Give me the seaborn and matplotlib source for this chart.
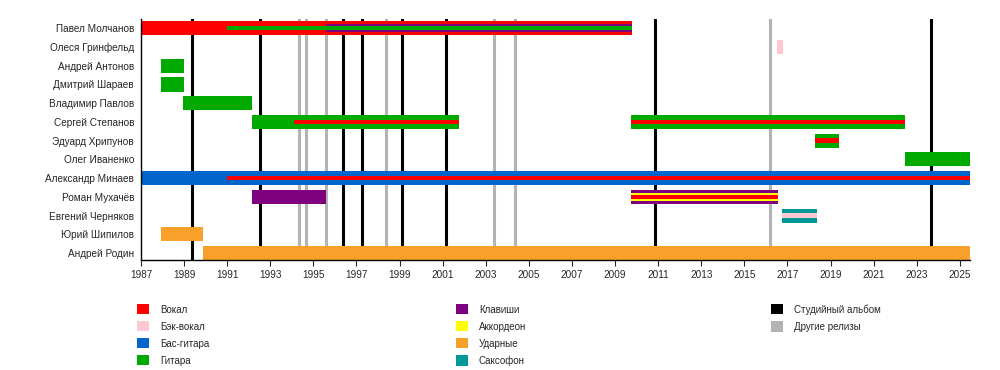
import numpy as np
import pandas as pd
import matplotlib
matplotlib.use("Agg")
import matplotlib.pyplot as plt
from matplotlib.patches import Patch
import seaborn as sns

# members, top to bottom
members = [
    "Павел Молчанов", "Олеся Гринфельд", "Андрей Антонов", "Дмитрий Шараев",
    "Владимир Павлов", "Сергей Степанов", "Эдуард Хрипунов", "Олег Иваненко",
    "Александр Минаев", "Роман Мухачёв", "Евгений Черняков", "Юрий Шипилов",
    "Андрей Родин",
]

instruments = ["Вокал", "Бэк-вокал", "Бас-гитара", "Гитара",
               "Клавиши", "Аккордеон", "Ударные", "Саксофон"]
inst_colors = ["#ff0000", "#ffc8d0", "#0066cc", "#00aa00",
               "#7f007f", "#ffff00", "#f9a02a", "#009999"]
color_of = dict(zip(instruments, inst_colors))

END = 2025.47

# (member, start, end, instrument)
main_bars = [
    ("Павел Молчанов", 1987.0, 2009.8, "Вокал"),
    ("Олеся Гринфельд", 2016.5, 2016.77, "Бэк-вокал"),
    ("Андрей Антонов", 1987.95, 1989.0, "Гитара"),
    ("Дмитрий Шараев", 1987.95, 1989.0, "Гитара"),
    ("Владимир Павлов", 1988.97, 1992.15, "Гитара"),
    ("Сергей Степанов", 1992.15, 2001.77, "Гитара"),
    ("Сергей Степанов", 2009.76, 2022.45, "Гитара"),
    ("Эдуард Хрипунов", 2018.3, 2019.37, "Гитара"),
    ("Олег Иваненко", 2022.45, END, "Гитара"),
    ("Александр Минаев", 1987.0, END, "Бас-гитара"),
    ("Роман Мухачёв", 1992.15, 1995.6, "Клавиши"),
    ("Роман Мухачёв", 2009.76, 2016.54, "Клавиши"),
    ("Евгений Черняков", 2016.73, 2018.35, "Саксофон"),
    ("Юрий Шипилов", 1987.95, 1989.9, "Ударные"),
    ("Андрей Родин", 1989.9, END, "Ударные"),
]
mid_bars = [
    ("Павел Молчанов", 1995.6, 2009.8, "Клавиши"),
    ("Роман Мухачёв", 2009.76, 2016.54, "Аккордеон"),
]
thin_bars = [
    ("Павел Молчанов", 1991.0, 2009.8, "Гитара"),
    ("Сергей Степанов", 1994.1, 2001.77, "Вокал"),
    ("Сергей Степанов", 2009.76, 2022.45, "Вокал"),
    ("Эдуард Хрипунов", 2018.3, 2019.37, "Вокал"),
    ("Александр Минаев", 1991.0, END, "Вокал"),
    ("Роман Мухачёв", 2009.76, 2016.54, "Вокал"),
    ("Евгений Черняков", 2016.73, 2018.35, "Бэк-вокал"),
]

studio_albums = [1989.37, 1992.53, 1996.38, 1997.26, 1999.12, 2001.17, 2010.87, 2023.65]
other_releases = [1994.34, 1994.66, 1995.6, 1998.38, 2003.4, 2004.37, 2016.2]

sns.set_style("white")
plt.rcParams["font.family"] = ["Liberation Sans", "DejaVu Sans"]

fig, ax = plt.subplots(figsize=(10, 3.7), dpi=100)
fig.subplots_adjust(left=0.141, right=0.970, top=0.949, bottom=0.297)

for x in other_releases:
    ax.axvline(x, color="#b3b3b3", lw=2.2, zorder=1)
for x in studio_albums:
    ax.axvline(x, color="black", lw=2.2, zorder=1)

row = {m: i for i, m in enumerate(members)}
for bars, h, z in [(main_bars, 0.75, 2), (mid_bars, 0.45, 3), (thin_bars, 0.24, 4)]:
    df = pd.DataFrame(bars, columns=["member", "start", "end", "inst"])
    ax.barh(df["member"].map(row), df["end"] - df["start"], left=df["start"],
            height=h, color=df["inst"].map(color_of), linewidth=0, zorder=z)

ax.set_xlim(1987, END)
ax.set_ylim(12.37, -0.5)
ax.set_yticks(range(len(members)))
ax.set_yticklabels(members, fontsize=7.2)
ax.set_xticks(np.arange(1987, 2026, 2))
ax.tick_params(axis="x", labelsize=7.2, length=4, width=0.8, direction="out", bottom=True, pad=3)
ax.tick_params(axis="y", length=0, pad=5)
sns.despine(ax=ax, top=True, right=True)
for s in ["left", "bottom"]:
    ax.spines[s].set_color("black")
    ax.spines[s].set_linewidth(1)

legend_cols = [
    (["Вокал", "Бэк-вокал", "Бас-гитара", "Гитара"], [color_of[k] for k in ["Вокал", "Бэк-вокал", "Бас-гитара", "Гитара"]], 0.137),
    (["Клавиши", "Аккордеон", "Ударные", "Саксофон"], [color_of[k] for k in ["Клавиши", "Аккордеон", "Ударные", "Саксофон"]], 0.456),
    (["Студийный альбом", "Другие релизы"], ["black", "#b3b3b3"], 0.771),
]
for labels, cols, x0 in legend_cols:
    handles = [Patch(facecolor=c, edgecolor="none", label=l) for l, c in zip(labels, cols)]
    fig.legend(handles=handles, loc="upper left", bbox_to_anchor=(x0, 0.178),
               frameon=False, fontsize=7, handlelength=1.25, handleheight=1.25,
               handletextpad=1.1, labelspacing=0.68, borderpad=0, borderaxespad=0)

fig.savefig("out.png", dpi=100)
